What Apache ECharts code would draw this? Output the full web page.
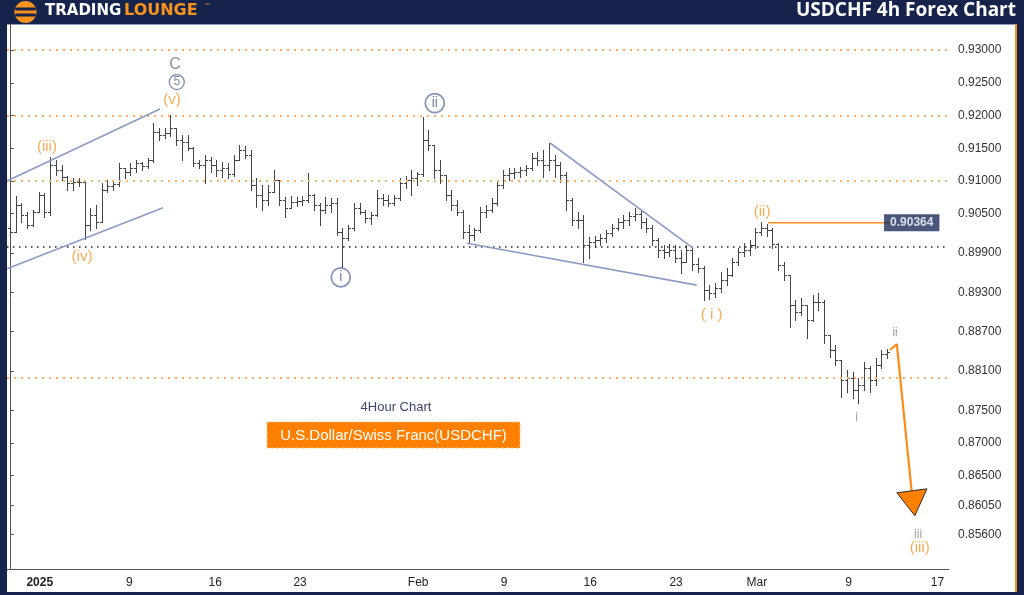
<!DOCTYPE html>
<html><head><meta charset="utf-8">
<script src="https://cdn.jsdelivr.net/npm/echarts@6/dist/echarts.min.js"></script>
<style>
html,body{margin:0;padding:0;background:#16244b;width:1024px;height:595px;overflow:hidden}
#panel{position:absolute;left:7px;top:24px;width:1010px;height:568px;background:#fff;border-right:2px solid #f7931e;border-top:1px solid #8e9ab5;box-sizing:border-box}
#chart{position:absolute;left:0;top:0;width:1024px;height:595px}
</style></head><body>
<div id="panel"></div><div id="chart"></div>
<script>
// ---- 8h OHLC bars (bar index = position on the trading-time axis) ----
const opens=[0.9028,0.9022,0.9063,0.9048,0.9033,0.9053,0.9079,0.9053,0.9124,0.9117,0.9106,0.9097,0.9098,0.9098,0.9033,0.9048,0.9037,0.9086,0.9092,0.9095,0.9120,0.9114,0.9120,0.9127,0.9123,0.9132,0.9175,0.9170,0.9173,0.9181,0.9163,0.9160,0.9150,0.9127,0.9124,0.9132,0.9124,0.9117,0.9120,0.9111,0.9132,0.9147,0.9140,0.9094,0.9079,0.9071,0.9083,0.9102,0.9071,0.9059,0.9068,0.9069,0.9071,0.9079,0.9063,0.9056,0.9063,0.9066,0.9022,0.9013,0.9028,0.9059,0.9053,0.9043,0.9048,0.9074,0.9071,0.9066,0.9074,0.9097,0.9102,0.9105,0.9111,0.9163,0.9155,0.9117,0.9109,0.9079,0.9063,0.9053,0.9022,0.9017,0.9025,0.9053,0.9056,0.9066,0.9094,0.9109,0.9112,0.9114,0.9117,0.9120,0.9135,0.9132,0.9124,0.9132,0.9124,0.9109,0.9071,0.9040,0.9040,0.9002,0.9007,0.9010,0.9013,0.9020,0.9028,0.9037,0.9040,0.9046,0.9049,0.9037,0.9028,0.9010,0.8994,0.8991,0.8994,0.8982,0.8976,0.8994,0.8973,0.8967,0.8933,0.8929,0.8937,0.8949,0.8956,0.8976,0.8991,0.8994,0.9002,0.9022,0.9028,0.9025,0.9004,0.8972,0.8956,0.8911,0.8900,0.8911,0.8888,0.8915,0.8915,0.8865,0.8842,0.8827,0.8796,0.8799,0.8781,0.8789,0.8815,0.8796,0.8819,0.8836];
const highs=[0.9037,0.9077,0.9066,0.9053,0.9056,0.9083,0.9082,0.9137,0.9132,0.9124,0.9108,0.9105,0.9105,0.9102,0.9059,0.9063,0.9097,0.9102,0.9100,0.9127,0.9120,0.9127,0.9132,0.9129,0.9135,0.9189,0.9181,0.9181,0.9201,0.9181,0.9170,0.9170,0.9152,0.9132,0.9140,0.9137,0.9132,0.9129,0.9127,0.9140,0.9155,0.9153,0.9147,0.9105,0.9094,0.9094,0.9117,0.9102,0.9076,0.9077,0.9076,0.9077,0.9112,0.9080,0.9066,0.9076,0.9074,0.9074,0.9028,0.9033,0.9066,0.9066,0.9056,0.9053,0.9086,0.9080,0.9079,0.9079,0.9105,0.9108,0.9117,0.9114,0.9198,0.9178,0.9155,0.9132,0.9109,0.9086,0.9071,0.9056,0.9033,0.9028,0.9060,0.9063,0.9074,0.9102,0.9117,0.9120,0.9120,0.9121,0.9124,0.9143,0.9144,0.9147,0.9158,0.9140,0.9129,0.9114,0.9074,0.9053,0.9048,0.9014,0.9016,0.9019,0.9025,0.9034,0.9043,0.9048,0.9053,0.9059,0.9056,0.9043,0.9033,0.9013,0.9002,0.9004,0.9002,0.8994,0.9002,0.8998,0.8982,0.8970,0.8941,0.8944,0.8961,0.8967,0.8982,0.8998,0.9005,0.9010,0.9028,0.9037,0.9034,0.9028,0.9005,0.8976,0.8956,0.8918,0.8921,0.8911,0.8926,0.8929,0.8918,0.8865,0.8850,0.8827,0.8812,0.8808,0.8799,0.8824,0.8818,0.8830,0.8842,0.8844];
const lows=[0.9016,0.9022,0.9037,0.9028,0.9031,0.9053,0.9045,0.9048,0.9109,0.9102,0.9086,0.9086,0.9092,0.9011,0.9025,0.9028,0.9037,0.9083,0.9086,0.9092,0.9105,0.9109,0.9114,0.9117,0.9120,0.9129,0.9163,0.9166,0.9169,0.9155,0.9132,0.9147,0.9123,0.9120,0.9097,0.9114,0.9108,0.9106,0.9105,0.9108,0.9132,0.9135,0.9086,0.9060,0.9056,0.9063,0.9083,0.9063,0.9045,0.9059,0.9062,0.9063,0.9068,0.9056,0.9033,0.9051,0.9053,0.9017,0.8969,0.9010,0.9025,0.9050,0.9037,0.9034,0.9047,0.9063,0.9062,0.9063,0.9071,0.9089,0.9079,0.9094,0.9108,0.9147,0.9105,0.9097,0.9071,0.9056,0.9048,0.9013,0.9005,0.9010,0.9022,0.9045,0.9053,0.9063,0.9089,0.9102,0.9105,0.9106,0.9109,0.9117,0.9124,0.9106,0.9117,0.9106,0.9098,0.9056,0.9033,0.9028,0.8976,0.8982,0.8999,0.9002,0.9007,0.9016,0.9025,0.9028,0.9033,0.9040,0.9028,0.9022,0.9002,0.8984,0.8982,0.8985,0.8976,0.8959,0.8976,0.8964,0.8961,0.8918,0.8920,0.8923,0.8930,0.8941,0.8955,0.8972,0.8985,0.8987,0.8998,0.9017,0.9016,0.8998,0.8964,0.8949,0.8877,0.8888,0.8895,0.8860,0.8886,0.8903,0.8853,0.8831,0.8819,0.8770,0.8778,0.8769,0.8761,0.8781,0.8778,0.8789,0.8815,0.8830];
const closes=[0.9022,0.9063,0.9048,0.9033,0.9053,0.9079,0.9053,0.9124,0.9117,0.9106,0.9097,0.9098,0.9098,0.9033,0.9048,0.9037,0.9086,0.9092,0.9095,0.9120,0.9114,0.9120,0.9127,0.9123,0.9132,0.9175,0.9170,0.9173,0.9181,0.9163,0.9160,0.9150,0.9127,0.9124,0.9132,0.9124,0.9117,0.9120,0.9111,0.9132,0.9147,0.9140,0.9094,0.9079,0.9071,0.9083,0.9102,0.9071,0.9059,0.9068,0.9069,0.9071,0.9079,0.9063,0.9056,0.9063,0.9066,0.9022,0.9013,0.9028,0.9059,0.9053,0.9043,0.9048,0.9074,0.9071,0.9066,0.9074,0.9097,0.9102,0.9105,0.9111,0.9163,0.9155,0.9117,0.9109,0.9079,0.9063,0.9053,0.9022,0.9017,0.9025,0.9053,0.9056,0.9066,0.9094,0.9109,0.9112,0.9114,0.9117,0.9120,0.9135,0.9132,0.9124,0.9132,0.9124,0.9109,0.9071,0.9040,0.9040,0.9002,0.9007,0.9010,0.9013,0.9020,0.9028,0.9037,0.9040,0.9046,0.9049,0.9037,0.9028,0.9010,0.8994,0.8991,0.8994,0.8982,0.8976,0.8994,0.8973,0.8967,0.8933,0.8929,0.8937,0.8949,0.8956,0.8976,0.8991,0.8994,0.9002,0.9022,0.9028,0.9025,0.9004,0.8972,0.8956,0.8911,0.8900,0.8911,0.8888,0.8915,0.8915,0.8865,0.8842,0.8827,0.8796,0.8799,0.8781,0.8789,0.8815,0.8796,0.8819,0.8836,0.8839];

// ---- axes ----
const xTickPos=[5.2,20.8,35.8,50.6,71.2,86.2,101.2,116.2,130.3,146.3,161.8];
const xTickText=['2025','9','16','23','Feb','9','16','23','Mar','9','17'];
const yTickVals=[0.93,0.925,0.92,0.915,0.91,0.905,0.899,0.893,0.887,0.881,0.875,0.87,0.865,0.8605,0.856];
const orangeLevels=[0.93,0.92,0.91,0.88];
const blackLevels=[0.900];

// ---- annotations ----
const currentLevel=0.90364;
const levelLineX=[132.2,153.9];
const levelTagX=157.3;
const channelUpper=[[-0.52,0.9100],[26.16,0.9210]];
const channelLower=[[-0.52,0.8966],[26.7,0.9059]];
const wedgeUpper=[[94.2,0.9158],[119.1,0.8998]];
const wedgeLower=[[79.7,0.9005],[119.8,0.8941]];
const projX=[153.5,154.7,157.3];
const projY=[0.8842,0.8851,0.8625];
const arrowX=[154.7,159.95,157.85];
const arrowY=[0.8624,0.8630,0.8589];
const orangeWaves=[['(iii)',6.45,0.9152],['(iv)',12.56,0.8984],['(v)',28.26,0.9224],['( i )',122.4,0.8895],['(ii)',131.2,0.9053],['(iii)',158.7,0.8540]];
const greyMinor=[['i',147.7,0.8738],['ii',154.4,0.8868],['iii',158.4,0.8560]];
const greyMajor=[['C',28.8,0.9277]];
const circledSmall=[['5',29.1,0.9251]];
const circledWaves=[['i',57.7,0.8953],['ii',74.1,0.9219]];

const ohlc=opens.map((o,i)=>[i,o,highs[i],lows[i],closes[i]]);
const chart=echarts.init(document.getElementById('chart'),null,{renderer:'canvas'});
const BAR='#444444';
const crisp=v=>Math.round(v)+0.5;

function labelSeries(arr,label){
  return {type:'scatter',symbolSize:0,silent:true,z:10,
    data:arr.map(a=>({value:[a[1],a[2]],name:a[0]})),
    label:Object.assign({show:true,position:'inside',formatter:p=>p.name},label)};
}
function lineSeries(pts,style){
  return {type:'line',data:pts,symbol:'none',silent:true,z:5,lineStyle:style,animation:false};
}

const option={
  animation:false,
  backgroundColor:'transparent',
  grid:{left:7,right:75,top:24,bottom:26,containLabel:false,outerBoundsMode:'none'},
  xAxis:{type:'value',min:-0.52,max:163.8,
    axisLine:{show:true,lineStyle:{color:'#555',width:1}},
    axisTick:{show:false},splitLine:{show:false},
    axisLabel:{customValues:xTickPos,margin:8,color:'#222',fontFamily:'Liberation Sans Narrow, Liberation Sans, Arial',fontSize:12,
      formatter:v=>{const k=xTickPos.findIndex(p=>Math.abs(p-v)<0.01);const t=k>=0?xTickText[k]:'';return t==='2025'?'{b|'+t+'}':t;},
      rich:{b:{fontWeight:'bold',fontFamily:'Liberation Sans Narrow, Liberation Sans, Arial',fontSize:12,color:'#222'}}}},
  yAxis:{type:'value',position:'right',min:0.85076,max:0.93397,
    axisLine:{show:true,lineStyle:{color:'#555',width:1}},
    axisTick:{show:true,length:4,customValues:yTickVals,lineStyle:{color:'#555'}},
    splitLine:{show:false},
    axisLabel:{customValues:yTickVals,margin:9,color:'#333',fontFamily:'Liberation Sans, Arial',fontSize:12,formatter:v=>v.toFixed(5)}},
  graphic:[
    {type:'circle',shape:{cx:25.5,cy:12,r:11},style:{fill:'#f7931e'}},
    {type:'rect',shape:{x:15,y:7.5,width:21,height:3,r:1.5},style:{fill:'#16244b'}},
    {type:'rect',shape:{x:15,y:13.5,width:21,height:3,r:1.5},style:{fill:'#16244b'}},
    {type:'text',left:45,top:4,style:{text:'TRADING',fill:'#ffffff',font:'bold 15px "DejaVu Sans"'}},
    {type:'text',left:124,top:3,style:{text:'LOUNGE',fill:'#f7931e',font:'bold 16px "DejaVu Sans"'}},
    {type:'text',left:204,top:3,style:{text:'™',fill:'#f7931e',font:'7px "DejaVu Sans"'}},
    {type:'text',right:8,top:1,style:{text:'USDCHF 4h Forex Chart',fill:'#ffffff',font:'bold 19px "Open Sans"',textAlign:'right'}},
    {type:'text',x:396,y:407,style:{text:'4Hour Chart',fill:'#3a4770',font:'13px "Liberation Sans"',textAlign:'center',textVerticalAlign:'middle'}},
    {type:'rect',shape:{x:267,y:422,width:253,height:26},style:{fill:'#ff8000',stroke:'#ffc180',lineWidth:1,lineDash:[3,2]}},
    {type:'text',x:393.5,y:435.5,style:{text:'U.S.Dollar/Swiss Franc(USDCHF)',fill:'#ffffff',font:'15px "Liberation Sans"',textAlign:'center',textVerticalAlign:'middle'}}
  ],
  series:[
    {type:'line',data:[],silent:true,markLine:{symbol:'none',silent:true,animation:false,label:{show:false},
      data:orangeLevels.map(v=>({yAxis:v,lineStyle:{color:'#fbb06a',type:[2,5],width:2}}))
        .concat(blackLevels.map(v=>({yAxis:v,lineStyle:{color:'#222',type:[1.5,4.5],width:1.5}})))}},
    {type:'custom',z:3,silent:true,data:ohlc,encode:{x:0,y:[1,2,3,4]},
      renderItem:(params,api)=>{
        const x=api.value(0);
        const h=api.coord([x,api.value(2)]),l=api.coord([x,api.value(3)]);
        const o=api.coord([x,api.value(1)]),c=api.coord([x,api.value(4)]);
        const px=crisp(h[0]);
        const st={stroke:BAR,lineWidth:1};
        return {type:'group',children:[
          {type:'line',shape:{x1:px,y1:Math.round(h[1]),x2:px,y2:Math.round(l[1])+1},style:st},
          {type:'line',shape:{x1:px-2.5,y1:crisp(o[1]),x2:px,y2:crisp(o[1])},style:st},
          {type:'line',shape:{x1:px,y1:crisp(c[1]),x2:px+2.5,y2:crisp(c[1])},style:st}
        ]};
      }},
    lineSeries(channelUpper,{color:'#8d9cc5',width:1.6}),
    lineSeries(channelLower,{color:'#8d9cc5',width:1.6}),
    lineSeries(wedgeUpper,{color:'#8d9cc5',width:1.6}),
    lineSeries(wedgeLower,{color:'#8d9cc5',width:1.6}),
    lineSeries(levelLineX.map(x=>[x,currentLevel]),{color:'#f7931e',width:1.5}),
    lineSeries(projX.map((x,i)=>[x,projY[i]]),{color:'#ff8a1a',width:2.2}),
    {type:'custom',z:6,silent:true,data:[[arrowX[0],arrowY[0]]],
      renderItem:(params,api)=>({type:'polygon',
        shape:{points:arrowX.map((x,i)=>api.coord([x,arrowY[i]]))},
        style:{fill:'#ff8000',stroke:'#2b2b2b',lineWidth:1}})},
    {type:'scatter',symbolSize:0,silent:true,z:10,data:[[levelTagX,currentLevel]],
      label:{show:true,position:'inside',formatter:()=>currentLevel.toFixed(5),color:'#fff',fontSize:12,
        fontFamily:'Liberation Sans, Arial',fontWeight:'bold',backgroundColor:'#1c2d5c',padding:[3,6,2,6]}},
    labelSeries(orangeWaves,{color:'#f8962a',fontSize:15,fontFamily:'Liberation Sans, Arial'}),
    labelSeries(greyMinor,{color:'#8a8a8a',fontSize:12,fontFamily:'Liberation Sans, Arial'}),
    labelSeries(greyMajor,{color:'#6b7385',fontSize:16,fontFamily:'Liberation Sans, Arial'}),
    labelSeries(circledSmall,{color:'#5d6d96',fontSize:12,fontFamily:'Liberation Sans, Arial',
      borderColor:'#5d6d96',borderWidth:1.3,borderRadius:8,width:15,height:15,lineHeight:15,align:'center'}),
    labelSeries(circledWaves,{color:'#4f6190',fontSize:14,fontFamily:'Liberation Sans, Arial',
      borderColor:'#6a7ca8',borderWidth:1.8,borderRadius:10,width:19,height:19,lineHeight:19,align:'center'})
  ]
};
chart.setOption(option);
</script>
</body></html>
